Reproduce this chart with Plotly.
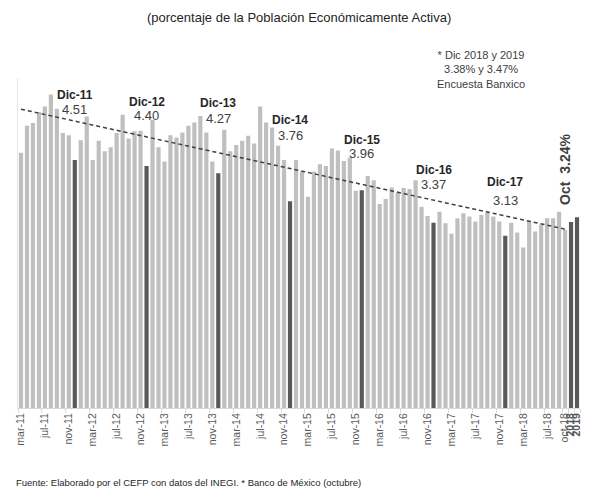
import numpy as np
import plotly.graph_objects as go

# tasa de desocupacion mensual (% de la PEA)
meses = ["ene", "feb", "mar", "abr", "may", "jun", "jul", "ago", "sep", "oct", "nov", "dic"]

td_2011 = [4.64, 5.13, 5.18, 5.38, 5.48, 5.70, 5.44, 5.00, 4.96, 4.51]  # mar-dic
td_2012 = [4.87, 5.30, 4.51, 4.86, 4.67, 4.74, 5.00, 5.33, 4.90, 5.03, 5.04, 4.40]
td_2013 = [5.24, 4.74, 4.48, 4.96, 4.92, 5.01, 5.13, 5.19, 5.31, 5.01, 4.48, 4.27]
td_2014 = [5.06, 4.67, 4.78, 4.86, 4.95, 4.81, 5.48, 5.19, 5.10, 4.77, 4.51, 3.76]
td_2015 = [4.51, 4.30, 3.84, 4.30, 4.43, 4.40, 4.72, 4.68, 4.49, 4.55, 3.95, 3.96]
td_2016 = [4.22, 4.14, 3.71, 3.80, 4.01, 3.92, 4.00, 3.98, 4.14, 3.66, 3.49, 3.37]
td_2017 = [3.57, 3.36, 3.17, 3.45, 3.54, 3.48, 3.39, 3.51, 3.55, 3.48, 3.39, 3.13]
td_2018 = [3.37, 3.19, 2.92, 3.39, 3.21, 3.33, 3.45, 3.45, 3.57, 3.24]  # ene-oct

pronostico_cat = ["2018", "2019"]
pronostico = [3.38, 3.47]

etiquetas_dic = ["Dic-11", "Dic-12", "Dic-13", "Dic-14", "Dic-15", "Dic-16", "Dic-17"]
valores_dic = ["4.51", "4.40", "4.27", "3.76", "3.96", "3.37", "3.13"]

FONT = "Liberation Sans, Arial, sans-serif"
GRIS = "#BFBFBF"
OSCURO = "#595959"
TEXTO = "#404040"

# categorias
series = [("11", meses[2:], td_2011), ("12", meses, td_2012), ("13", meses, td_2013),
          ("14", meses, td_2014), ("15", meses, td_2015), ("16", meses, td_2016),
          ("17", meses, td_2017), ("18", meses[:10], td_2018)]
cats, vals = [], []
for anio, ms, vs in series:
    cats += [f"{m}-{anio}" for m in ms]
    vals += vs

todas_cats = cats + pronostico_cat
todas_vals = vals + pronostico
colores = [OSCURO if c.startswith("dic") else GRIS for c in cats] + [OSCURO] * len(pronostico)

# tendencia lineal sobre la serie mensual
idx = np.arange(len(vals))
m, b = np.polyfit(idx, vals, 1)
tendencia = m * idx + b

fig = go.Figure()
fig.add_trace(go.Bar(x=todas_cats, y=todas_vals, marker=dict(color=colores, line_width=0),
                     hoverinfo="x+y"))
fig.add_trace(go.Scatter(x=cats, y=tendencia, mode="lines",
                         line=dict(color=TEXTO, width=1.5, dash="4px,3px"), hoverinfo="skip"))

# etiquetas de diciembre
pos_nombre = [5.69, 5.56, 5.55, 5.24, 4.88, 4.33, 4.11]
pos_valor = [5.42, 5.31, 5.27, 4.96, 4.62, 4.06, 3.78]
dic_cats = [c for c in cats if c.startswith("dic")]
for c, et, v, yn, yv in zip(dic_cats, etiquetas_dic, valores_dic, pos_nombre, pos_valor):
    fig.add_annotation(x=c, y=yn, text=f"<b>{et}</b>", showarrow=False, yanchor="middle",
                       font=dict(size=12, color="#262626", family=FONT))
    fig.add_annotation(x=c, y=yv, text=v, showarrow=False, yanchor="middle",
                       font=dict(size=13, color=TEXTO, family=FONT))

fig.add_annotation(x="oct-18", y=4.33, text="<b>Oct  3.24%</b>", textangle=-90, showarrow=False,
                   yanchor="middle", font=dict(size=14, color=TEXTO, family=FONT))

fig.add_annotation(xref="paper", yref="paper", x=0.5, y=1.182, yanchor="middle",
                   text="(porcentaje de la Población Económicamente Activa)",
                   showarrow=False, font=dict(size=13, color="#262626", family=FONT))
fig.add_annotation(xref="paper", yref="paper", x=0.906, y=1.027, yanchor="middle",
                   text="* Dic 2018 y 2019<br>3.38% y 3.47%<br>Encuesta Banxico",
                   showarrow=False, align="center",
                   font=dict(size=11, color=TEXTO, family=FONT))
fig.add_annotation(xref="paper", yref="paper", x=-0.007, xanchor="left", y=-0.227, yanchor="middle",
                   text="Fuente: Elaborado por el CEFP con datos del INEGI. * Banco de México (octubre)",
                   showarrow=False, font=dict(size=9.5, color="#262626", family=FONT))

tick_vals = cats[::4] + ["oct-18"] + pronostico_cat
tick_text = cats[::4] + ["oct-18"] + [f"<b>{p}</b>" for p in pronostico_cat]

# la pagina deja 8px de margen en el body: se compensa en el tamaño
fig.update_layout(
    width=589, height=481,
    margin=dict(l=10, r=17, t=70, b=81),
    paper_bgcolor="white", plot_bgcolor="white",
    showlegend=False, bargap=0.3,
    font=dict(family=FONT, color=OSCURO),
    xaxis=dict(type="category", tickvals=tick_vals, ticktext=tick_text, tickangle=-90,
               tickfont=dict(size=10.5, color=OSCURO, family=FONT),
               showline=True, linecolor="#D9D9D9", linewidth=1,
               ticks="outside", ticklen=4, tickcolor="#D9D9D9", tickson="boundaries",
               showgrid=False, automargin=False),
    yaxis=dict(range=[0, 6], showticklabels=False, showgrid=False, zeroline=False,
               showline=True, linecolor="#E6E6E6", ticks=""),
)

fig.write_html("out.html")
